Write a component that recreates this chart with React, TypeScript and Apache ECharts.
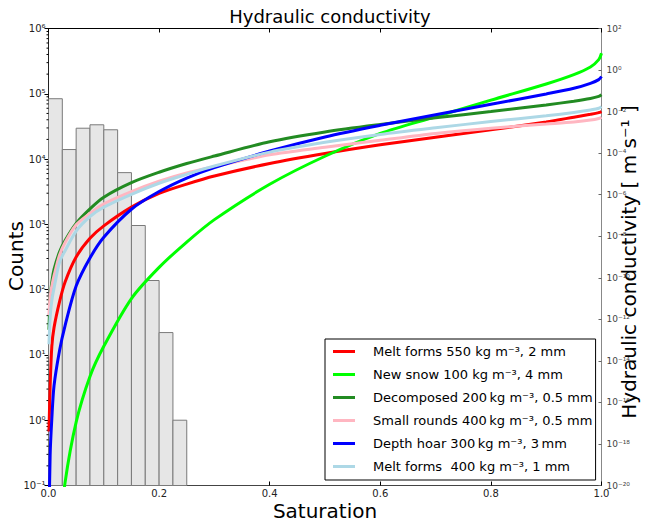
import React, { useEffect, useRef } from "react";
import * as echarts from "echarts";

// Histogram of saturation (left axis, counts)
const binEdges = [0, 0.025, 0.05, 0.075, 0.1, 0.125, 0.15, 0.175, 0.2, 0.225, 0.25];
const binCounts = [84000, 14000, 29700, 33500, 28100, 6200, 960, 138, 22, 1];

// Hydraulic conductivity curves (right axis), stored as log10(K [m s^-1])
const saturation = [0.0008, 0.003, 0.006, 0.01, 0.02, 0.03, 0.05, 0.075, 0.1, 0.15, 0.2, 0.25, 0.3, 0.4, 0.5, 0.6, 0.7, 0.8, 0.9, 0.95, 0.98, 0.995, 1.0];
const meltForms550 = [-17.4, -15.2, -13.3, -12.4, -11.15, -10.2, -9.0, -8.1, -7.5, -6.6, -5.94, -5.49, -5.1, -4.5, -4.02, -3.6, -3.23, -2.88, -2.5, -2.27, -2.13, -2.05, -2.0];
const newSnow100 = [null, null, null, null, -22.5, -19.85, -16.95, -14.75, -13.3, -11.0, -9.5, -8.28, -7.2, -5.5, -4.15, -3.05, -2.25, -1.45, -0.67, -0.22, 0.15, 0.5, 0.81];
const decomposed200 = [-12.5, -11.0, -10.2, -9.6, -8.75, -8.2, -7.38, -6.68, -6.12, -5.42, -4.92, -4.5, -4.14, -3.45, -2.98, -2.62, -2.3, -2.0, -1.68, -1.5, -1.37, -1.27, -1.19];
const smallRounds400 = [-11.8, -10.9, -10.4, -9.9, -8.9, -8.3, -7.45, -6.9, -6.44, -5.85, -5.35, -4.95, -4.65, -4.08, -3.72, -3.38, -3.05, -2.8, -2.6, -2.5, -2.41, -2.33, -2.27];
const depthHoar300 = [-22, -18.5, -16.8, -15.2, -13.5, -12.3, -10.4, -9.05, -8.05, -6.7, -5.85, -5.2, -4.7, -3.9, -3.22, -2.66, -2.15, -1.65, -1.15, -0.88, -0.64, -0.46, -0.31];
const meltForms400 = [-13.2, -11.9, -11.1, -10.5, -9.25, -8.7, -7.75, -7.05, -6.6, -5.98, -5.45, -5.02, -4.62, -3.95, -3.48, -3.1, -2.78, -2.48, -2.2, -2.04, -1.92, -1.84, -1.76];

const seriesNames = [
  "Melt forms 550 kg m⁻³, 2 mm",
  "New snow 100 kg m⁻³, 4 mm",
  "Decomposed 200\u2009kg m⁻³, 0.5 mm",
  "Small rounds 400\u2009kg m⁻³, 0.5 mm",
  "Depth hoar 300\u2009kg m⁻³, 3\u2009mm",
  "Melt forms  400 kg m⁻³, 1 mm",
];
const seriesValues = [meltForms550, newSnow100, decomposed200, smallRounds400, depthHoar300, meltForms400];
const seriesColors = ["#ff0000", "#00ff00", "#228b22", "#ffb6c1", "#0000ff", "#add8e6"];

const SUP: Record<string, string> = {
  "0": "⁰", "1": "¹", "2": "²", "3": "³", "4": "⁴", "5": "⁵", "6": "⁶", "7": "⁷", "8": "⁸", "9": "⁹", "-": "⁻",
};
const pow10Label = (e: number) => "10" + String(e).split("").map((c) => SUP[c] ?? c).join("");

const FONT = "DejaVu Sans";

export default function App() {
  const ref = useRef<HTMLDivElement>(null);
  useEffect(() => {
    if (!ref.current) return;
    const chart = echarts.init(ref.current, null, { renderer: "svg" });

    const histData = binCounts.map((c, i) => [binEdges[i], binEdges[i + 1], c]);
    const minorTicks: number[][] = [];
    for (let k = -1; k < 6; k++) {
      for (let m = 2; m <= 9; m++) minorTicks.push([0, m * Math.pow(10, k)]);
    }

    const lineSeries = seriesNames.map((name, j) => ({
      name,
      type: "line",
      xAxisIndex: 0,
      yAxisIndex: 1,
      data: saturation.map((s, i) => [s, seriesValues[j][i]]),
      showSymbol: false,
      symbol: "none",
      smooth: 0.3,
      clip: true,
      color: seriesColors[j],
      lineStyle: { width: 3, color: seriesColors[j] },
      z: 3,
    }));

    const option: any = {
      animation: false,
      textStyle: { fontFamily: FONT },
      title: {
        text: "Hydraulic conductivity",
        left: 325,
        textAlign: "center",
        top: 2,
        textStyle: { fontFamily: FONT, fontSize: 18, fontWeight: "normal", color: "#000" },
      },
      grid: { left: 48.5, top: 28.5, width: 553, height: 457 },
      xAxis: [
        {
          type: "value",
          min: 0,
          max: 1,
          interval: 0.2,
          position: "bottom",
          axisLine: { show: true, onZero: false, lineStyle: { color: "#444", width: 1 } },
          axisTick: { show: true, inside: true, length: 4, lineStyle: { color: "#000" } },
          axisLabel: { fontSize: 10, color: "#222", margin: 3, fontFamily: FONT, formatter: (v: number) => v.toFixed(1) },
          splitLine: { show: false },
        },
        {
          type: "value",
          min: 0,
          max: 1,
          interval: 0.2,
          position: "top",
          axisLine: { show: true, onZero: false, lineStyle: { color: "#000", width: 1 } },
          axisTick: { show: true, inside: true, length: 4, lineStyle: { color: "#000" } },
          axisLabel: { show: false },
          splitLine: { show: false },
        },
      ],
      yAxis: [
        {
          type: "log",
          logBase: 10,
          min: 0.1,
          max: 1e6,
          position: "left",
          axisLine: { show: true, onZero: false, lineStyle: { color: "#222", width: 1 } },
          axisTick: { show: true, inside: false, length: 4, lineStyle: { color: "#000" } },
          axisLabel: {
            fontSize: 10,
            color: "#222",
            margin: 3,
            fontFamily: FONT,
            showMinLabel: true,
            showMaxLabel: true,
            formatter: (v: number) => pow10Label(Math.round(Math.log10(v))),
          },
          splitLine: { show: false },
        },
        {
          type: "value",
          min: -20,
          max: 2,
          interval: 2,
          position: "right",
          axisLine: { show: true, onZero: false, lineStyle: { color: "#888", width: 1 } },
          axisTick: { show: true, inside: true, length: 3, lineStyle: { color: "#666" } },
          axisLabel: {
            fontSize: 9,
            color: "#444",
            margin: 5,
            fontFamily: FONT,
            showMinLabel: true,
            showMaxLabel: true,
            formatter: (v: number) => pow10Label(Math.round(v)),
          },
          splitLine: { show: false },
        },
      ],
      legend: {
        data: seriesNames,
        orient: "vertical",
        left: 325,
        top: 339,
        icon: "rect",
        itemWidth: 22,
        itemHeight: 3,
        itemGap: 0,
        padding: [1, 3, 2, 8],
        borderColor: "#000",
        borderWidth: 1,
        backgroundColor: "#fff",
        selectedMode: false,
        textStyle: { fontFamily: FONT, fontSize: 13, color: "#000", lineHeight: 23, padding: [0, 0, 0, 13] },
      },
      graphic: [
        {
          type: "text",
          x: 16,
          y: 256,
          rotation: Math.PI / 2,
          style: { text: "Counts", fontFamily: FONT, fontSize: 20, fill: "#000", align: "center", verticalAlign: "middle" },
        },
        {
          type: "text",
          x: 325,
          y: 511,
          style: { text: "Saturation", fontFamily: FONT, fontSize: 20, fill: "#000", align: "center", verticalAlign: "middle" },
        },
        {
          type: "text",
          x: 629,
          y: 262,
          rotation: Math.PI / 2,
          style: {
            text: "Hydraulic conductivity [ m s⁻¹ ]",
            fontFamily: FONT,
            fontSize: 20,
            fill: "#000",
            align: "center",
            verticalAlign: "middle",
          },
        },
      ],
      series: [
        {
          type: "custom",
          name: "histogram",
          xAxisIndex: 0,
          yAxisIndex: 0,
          data: histData,
          encode: { x: [0, 1], y: 2 },
          z: 1,
          renderItem: (_p: any, api: any) => {
            const p0 = api.coord([api.value(0), api.value(2)]);
            const p1 = api.coord([api.value(1), 0.1]);
            return {
              type: "rect",
              shape: { x: p0[0], y: p0[1], width: p1[0] - p0[0], height: p1[1] - p0[1] },
              style: { fill: "#e6e6e6", stroke: "#7a7a7a", lineWidth: 1 },
            };
          },
        },
        {
          type: "custom",
          name: "minorTicks",
          xAxisIndex: 0,
          yAxisIndex: 0,
          data: minorTicks,
          encode: { x: 0, y: 1 },
          z: 2,
          silent: true,
          renderItem: (_p: any, api: any) => {
            const p = api.coord([0, api.value(1)]);
            return {
              type: "line",
              shape: { x1: p[0] - 2, y1: p[1], x2: p[0], y2: p[1] },
              style: { stroke: "#000", lineWidth: 1 },
            };
          },
        },
        ...lineSeries,
      ],
    };
    chart.setOption(option);
    return () => chart.dispose();
  }, []);
  return <div ref={ref} style={{ position: "absolute", left: 0, top: 0, width: 648, height: 522 }} />;
}
